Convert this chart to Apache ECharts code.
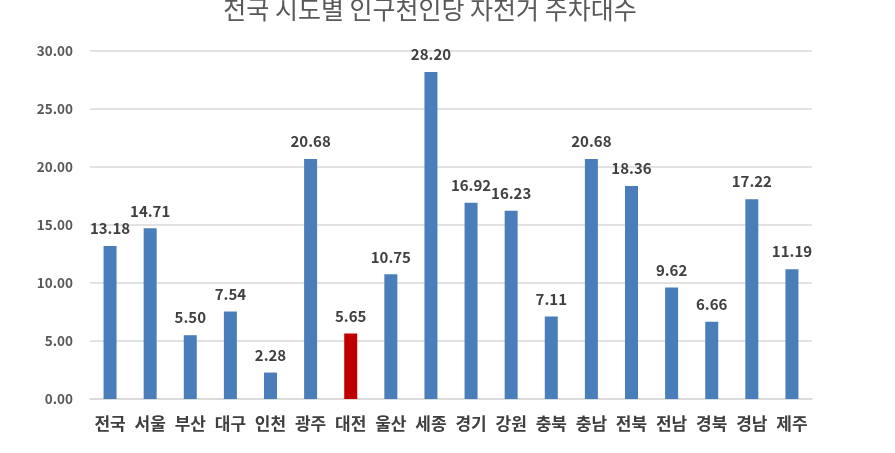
<!DOCTYPE html>
<html>
<head>
<meta charset="utf-8">
<script src="https://cdn.jsdelivr.net/npm/echarts@6/dist/echarts.min.js"></script>
<style>
  html, body { margin: 0; padding: 0; background: #fff; }
  #chart { width: 895px; height: 453px; }
</style>
</head>
<body>
<div id="chart"></div>
<script>
  const TITLE = "전국 시도별 인구천인당 자전거 주차대수";
  const REGIONS = ["전국", "서울", "부산", "대구", "인천", "광주", "대전", "울산", "세종",
    "경기", "강원", "충북", "충남", "전북", "전남", "경북", "경남", "제주"];
  const PARKING = [13.18, 14.71, 5.50, 7.54, 2.28, 20.68, 5.65, 10.75, 28.20,
    16.92, 16.23, 7.11, 20.68, 18.36, 9.62, 6.66, 17.22, 11.19];
  const HIGHLIGHT = "대전";

  const FONT = '"Noto Sans CJK KR", "Noto Sans", sans-serif';
  const BLUE = "#4A7EBB", RED = "#C00000";

  const chart = echarts.init(document.getElementById("chart"), null, { renderer: "canvas" });
  chart.setOption({
    animation: false,
    title: {
      text: TITLE, left: 425, top: -8, textAlign: "center",
      textStyle: { fontFamily: FONT, fontSize: 25, fontWeight: "normal", color: "#595959" },
    },
    grid: { left: 90, right: 83, top: 51, bottom: 54 },
    xAxis: {
      type: "category", data: REGIONS,
      axisTick: { show: false },
      axisLine: { lineStyle: { color: "#D9D9D9", width: 1.5 } },
      axisLabel: { interval: 0, margin: 16, fontFamily: FONT, fontSize: 17, fontWeight: "bold", color: "#404040" },
    },
    yAxis: {
      type: "value", min: 0, max: 30, interval: 5,
      axisLine: { show: false }, axisTick: { show: false },
      splitLine: { lineStyle: { color: "#D9D9D9", width: 1.5 } },
      axisLabel: { margin: 17, formatter: (v) => v.toFixed(2), fontFamily: FONT, fontSize: 13.5, fontWeight: "bold", color: "#595959" },
    },
    series: [{
      type: "bar", barWidth: 13,
      data: PARKING.map((v, i) => ({ value: v, itemStyle: { color: REGIONS[i] === HIGHLIGHT ? RED : BLUE } })),
      label: {
        show: true, position: "top", distance: 10,
        formatter: (p) => p.value.toFixed(2),
        fontFamily: FONT, fontSize: 15, fontWeight: "bold", color: "#404040",
      },
    }],
  });
</script>
</body>
</html>
